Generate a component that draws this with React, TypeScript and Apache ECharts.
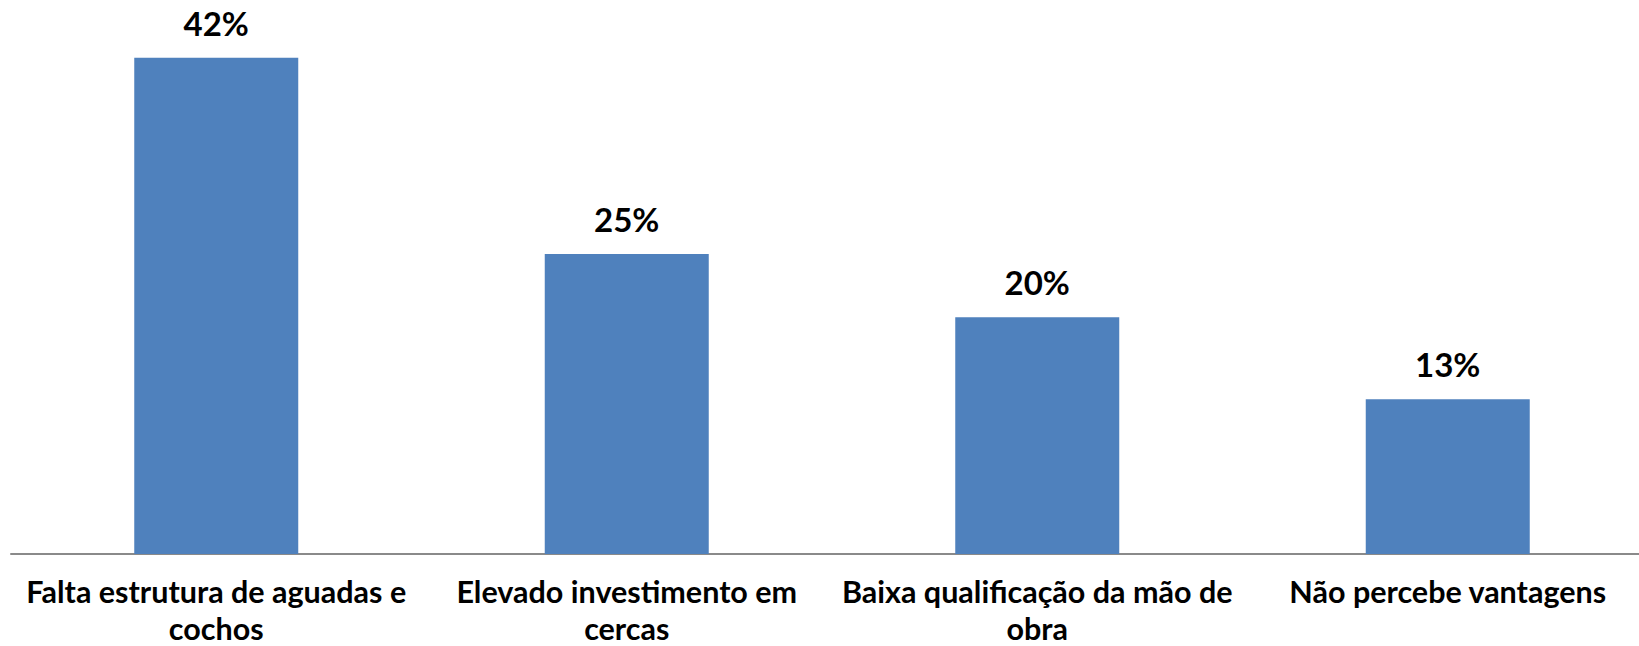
import React, { useEffect, useRef } from "react";
import * as echarts from "echarts";

const categories = [
  "Falta estrutura de aguadas e\ncochos",
  "Elevado investimento em\ncercas",
  "Baixa qualificação da mão de\nobra",
  "Não percebe vantagens",
];
const values = [41.7, 25.2, 19.9, 13.0];

export default function App() {
  const ref = useRef<HTMLDivElement>(null);
  useEffect(() => {
    if (!ref.current) return;
    const chart = echarts.init(ref.current, null, { renderer: "svg" });
    chart.setOption({
      animation: false,
      grid: {
        left: 11,
        width: 1642,
        top: 18.5,
        bottom: 92,
        containLabel: false,
        outerBoundsMode: "none",
      },
      xAxis: {
        type: "category",
        data: categories,
        axisLine: { lineStyle: { color: "#8a8a8a", width: 2 } },
        axisTick: { show: false },
        axisLabel: {
          interval: 0,
          margin: 18,
          color: "#000",
          fontFamily: "Lato",
          fontWeight: "bold",
          fontSize: 30.5,
          lineHeight: 37,
        },
      },
      yAxis: { type: "value", min: 0, max: 45, show: false, splitLine: { show: false } },
      series: [
        {
          type: "bar",
          data: values,
          barWidth: 164,
          itemStyle: { color: "#4F81BD" },
          label: {
            show: true,
            position: "top",
            distance: 18.5,
            color: "#000",
            fontFamily: "Lato",
            fontWeight: "bold",
            fontSize: 33,
            formatter: (p: any) => Math.round(p.value) + "%",
          },
        },
      ],
    });
    return () => chart.dispose();
  }, []);
  return (
    <div
      ref={ref}
      style={{ position: "fixed", left: 0, top: 0, width: 1639, height: 646, background: "#fff" }}
    />
  );
}
